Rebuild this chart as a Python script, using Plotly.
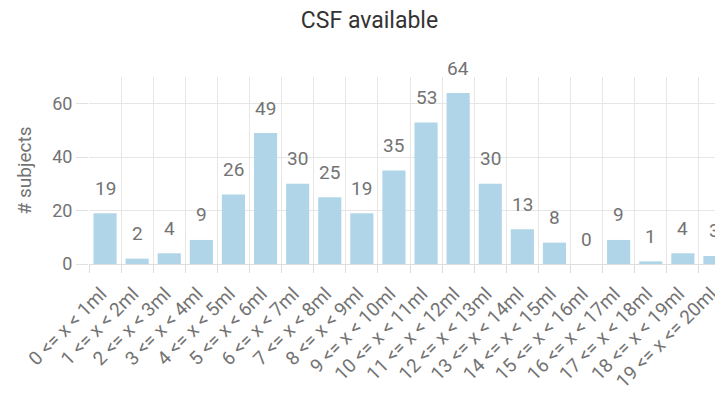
import plotly.graph_objects as go

categories = [
    "0 <= x < 1ml", "1 <= x < 2ml", "2 <= x < 3ml", "3 <= x < 4ml",
    "4 <= x < 5ml", "5 <= x < 6ml", "6 <= x < 7ml", "7 <= x < 8ml",
    "8 <= x < 9ml", "9 <= x < 10ml", "10 <= x < 11ml", "11 <= x < 12ml",
    "12 <= x < 13ml", "13 <= x < 14ml", "14 <= x < 15ml", "15 <= x < 16ml",
    "16 <= x < 17ml", "17 <= x < 18ml", "18 <= x < 19ml", "19 <= x <= 20ml",
]
subjects = [19, 2, 4, 9, 26, 49, 30, 25, 19, 35, 53, 64, 30, 13, 8, 0, 9, 1, 4, 3]

FONT = "Roboto, Arial, sans-serif"
TXT = "#737373"

fig = go.Figure()
fig.add_trace(go.Bar(
    x=categories,
    y=subjects,
    marker=dict(color="#b0d4e8", line=dict(width=0)),
    hoverinfo="x+y",
))

for c, v in zip(categories, subjects):
    fig.add_annotation(
        x=c, y=v, text=str(v), showarrow=False,
        yanchor="middle", yshift=25,
        font=dict(family=FONT, size=19, color=TXT),
    )

fig.update_layout(
    width=723, height=401,
    margin=dict(l=81, r=0, t=69, b=145, autoexpand=False),
    paper_bgcolor="white", plot_bgcolor="white",
    bargap=0.28,
    showlegend=False,
    font=dict(family=FONT, color=TXT),
    title=dict(
        text="CSF available", x=0.5, xanchor="center", y=0.97, yanchor="middle",
        font=dict(family=FONT, size=23, color="#333333"),
    ),
    xaxis=dict(
        type="category",
        automargin=False,
        range=[-0.5, 19.5],
        tickangle=-45,
        tickson="boundaries",
        ticks="outside", ticklen=8, tickcolor="#dddddd",
        ticklabelstandoff=14, ticklabelshift=-4,
        showgrid=True, gridcolor="#e6e6e6", gridwidth=1,
        showline=False, zeroline=False,
        tickfont=dict(family=FONT, size=19, color=TXT),
    ),
    yaxis=dict(
        automargin=False,
        range=[0, 70],
        tickvals=[0, 20, 40, 60],
        ticks="outside", ticklen=12, tickcolor="#e0e0e0",
        showgrid=True, gridcolor="#e6e6e6", gridwidth=1,
        zeroline=True, zerolinecolor="#dddddd", zerolinewidth=1,
        showline=False,
        tickfont=dict(family=FONT, size=18, color=TXT),
        title=dict(text="# subjects", font=dict(family=FONT, size=19, color=TXT), standoff=15),
    ),
)

fig.write_html("out.html")
